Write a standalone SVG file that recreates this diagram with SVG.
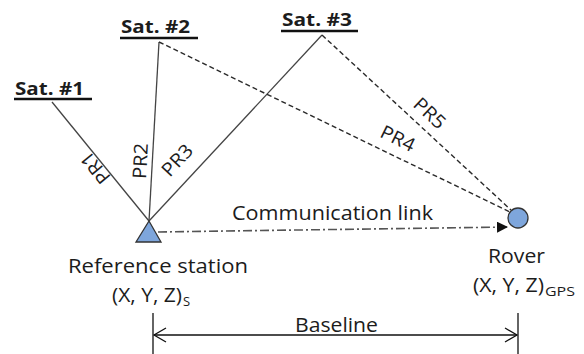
<svg xmlns="http://www.w3.org/2000/svg" width="584" height="354" viewBox="0 0 584 354">
<style>
text{font-family:"Open Sans","Liberation Sans",sans-serif;fill:#1c1c1c}
.sat{font-weight:bold;font-size:18px}
.lbl{font-size:20px}
.pr{font-size:19px;text-anchor:middle;dominant-baseline:central}
.solid{stroke:#444;stroke-width:1.3;fill:none}
.dash{stroke:#2a2a2a;stroke-width:1.4;fill:none;stroke-dasharray:5 3}
.ul{stroke:#111;stroke-width:2.5}
</style>
<defs>
<marker id="fa" viewBox="0 0 10 10" refX="10" refY="5" markerWidth="11" markerHeight="11" markerUnits="userSpaceOnUse" orient="auto"><path d="M0,0 L10,5 L0,10 Z" fill="#111"/></marker>
</defs>
<g id="connectors">
<line class="solid" x1="52" y1="102" x2="149" y2="221"/>
<line class="solid" x1="159" y1="42" x2="149" y2="221"/>
<line class="solid" x1="322" y1="35" x2="149" y2="221"/>
<line class="dash" x1="159" y1="42" x2="510" y2="212"/>
<line class="dash" x1="322" y1="35" x2="511" y2="210"/>
<line x1="158" y1="232" x2="508" y2="227" stroke="#555" stroke-width="1.6" stroke-dasharray="9 3 2 3" marker-end="url(#fa)"/>
<g id="baseline">
<line x1="153" y1="313" x2="153" y2="354" stroke="#111" stroke-width="1.3"/>
<line x1="518" y1="313" x2="518" y2="354" stroke="#111" stroke-width="1.3"/>
<line x1="154" y1="335" x2="517" y2="335" stroke="#111" stroke-width="1.3"/>
<path d="M166,328 L154,335 L166,342 M505,328 L517,335 L505,342" fill="none" stroke="#111" stroke-width="1.3"/>
<text class="lbl" x="295" y="332" textLength="83" lengthAdjust="spacingAndGlyphs">Baseline</text>
</g>
<text class="pr" transform="translate(95,168) rotate(-129.6)" textLength="35" lengthAdjust="spacingAndGlyphs">PR1</text>
<text class="pr" transform="translate(140,161) rotate(-87)" textLength="36" lengthAdjust="spacingAndGlyphs">PR2</text>
<text class="pr" transform="translate(177,160) rotate(-47)" textLength="36" lengthAdjust="spacingAndGlyphs">PR3</text>
<text class="pr" transform="translate(398,138) rotate(26)" textLength="36" lengthAdjust="spacingAndGlyphs">PR4</text>
<text class="pr" transform="translate(430,113) rotate(43)" textLength="36" lengthAdjust="spacingAndGlyphs">PR5</text>
<text class="lbl" x="232" y="220" textLength="201" lengthAdjust="spacingAndGlyphs">Communication link</text>
</g>
<g id="sat1">
<text class="sat" x="15" y="95" textLength="69" lengthAdjust="spacingAndGlyphs">Sat. #1</text>
<line class="ul" x1="14" y1="99" x2="92" y2="99"/>
</g>
<g id="sat2">
<text class="sat" x="121" y="33" textLength="69" lengthAdjust="spacingAndGlyphs">Sat. #2</text>
<line class="ul" x1="120" y1="38" x2="198" y2="38"/>
</g>
<g id="sat3">
<text class="sat" x="282" y="26" textLength="70" lengthAdjust="spacingAndGlyphs">Sat. #3</text>
<line class="ul" x1="281" y1="31" x2="358" y2="31"/>
</g>
<g id="reference-station">
<path d="M149,221 L161,242 L136,242 Z" fill="#7ea6dc" stroke="#333" stroke-width="1.3"/>
<text class="lbl" x="68" y="273" textLength="180" lengthAdjust="spacingAndGlyphs">Reference station</text>
<text class="lbl" x="112" y="302" textLength="70" lengthAdjust="spacingAndGlyphs">(X, Y, Z)</text>
<text x="183" y="306" font-size="13">S</text>
</g>
<g id="rover">
<circle cx="518" cy="218" r="10" fill="#7ea6dc" stroke="#333" stroke-width="1.3"/>
<text class="lbl" x="488" y="263" textLength="57" lengthAdjust="spacingAndGlyphs">Rover</text>
<text class="lbl" x="473" y="292" textLength="71" lengthAdjust="spacingAndGlyphs">(X, Y, Z)</text>
<text x="545" y="296" font-size="13" textLength="30" lengthAdjust="spacingAndGlyphs">GPS</text>
</g>
</svg>
